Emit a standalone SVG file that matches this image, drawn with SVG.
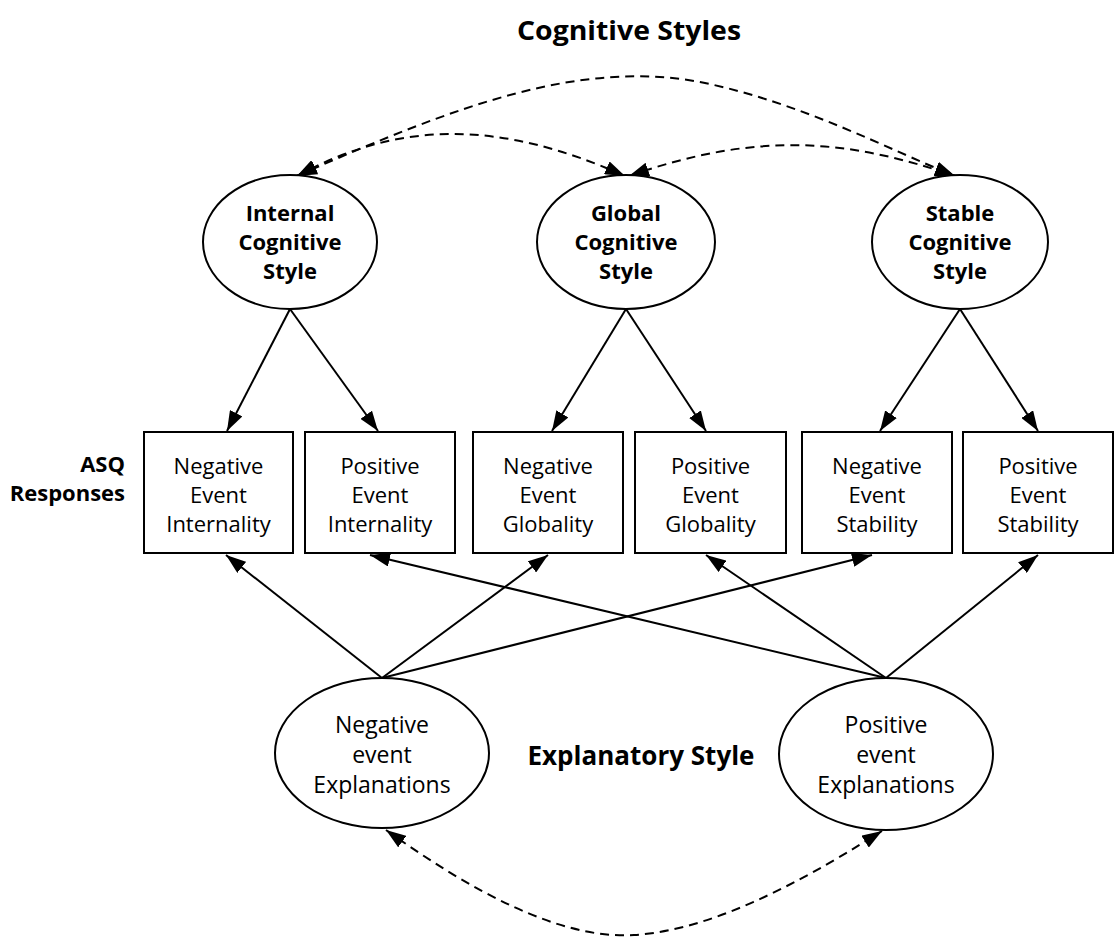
<svg xmlns="http://www.w3.org/2000/svg" width="1115" height="937" viewBox="0 0 1115 937">
  <style>
    .shape { fill: #fff; stroke: #000; stroke-width: 2; }
    .t { font-family: "Open Sans", "Liberation Sans", sans-serif; font-size: 22px; fill: #000; text-anchor: middle; }
    .b { font-weight: bold; }
    .e { font-size: 23px; }
    .h { font-size: 27px; }
    .path { fill: none; stroke: #000; stroke-width: 2; }
    .dash { fill: none; stroke: #000; stroke-width: 2; stroke-dasharray: 9 6; }
  </style>
  <defs>
    <marker id="dhead" viewBox="0 0 20 14" refX="20" refY="7" markerWidth="20" markerHeight="14" markerUnits="userSpaceOnUse" orient="auto">
      <path d="M0,0 L20,7 L0,14 Z" fill="#000"/>
    </marker>
    <marker id="dheadStart" viewBox="0 0 20 14" refX="0" refY="7" markerWidth="20" markerHeight="14" markerUnits="userSpaceOnUse" orient="auto">
      <path d="M20,0 L0,7 L20,14 Z" fill="#000"/>
    </marker>
  </defs>

  <text class="t b h" x="629" y="40" textLength="224" lengthAdjust="spacingAndGlyphs">Cognitive Styles</text>
  <text class="t b" x="125" y="472" style="text-anchor:end">ASQ</text>
  <text class="t b" x="125" y="501" style="text-anchor:end">Responses</text>
  <text class="t b h" x="641" y="765" textLength="227" lengthAdjust="spacingAndGlyphs">Explanatory Style</text>

  <g id="connectors">
    <!-- factor loadings of the cognitive styles -->
    <line class="path" x1="290" y1="309" x2="227" y2="431" marker-end="url(#dhead)"/>
    <line class="path" x1="290" y1="309" x2="378" y2="431" marker-end="url(#dhead)"/>
    <line class="path" x1="626" y1="309" x2="552" y2="431" marker-end="url(#dhead)"/>
    <line class="path" x1="626" y1="309" x2="706" y2="431" marker-end="url(#dhead)"/>
    <line class="path" x1="960" y1="309" x2="880" y2="431" marker-end="url(#dhead)"/>
    <line class="path" x1="960" y1="309" x2="1038" y2="431" marker-end="url(#dhead)"/>
    <!-- explanatory style loadings -->
    <line class="path" x1="382" y1="678" x2="226" y2="555" marker-end="url(#dhead)"/>
    <line class="path" x1="382" y1="678" x2="548" y2="555" marker-end="url(#dhead)"/>
    <line class="path" x1="382" y1="678" x2="872" y2="555" marker-end="url(#dhead)"/>
    <line class="path" x1="886" y1="678" x2="370" y2="555" marker-end="url(#dhead)"/>
    <line class="path" x1="886" y1="678" x2="706" y2="555" marker-end="url(#dhead)"/>
    <line class="path" x1="886" y1="678" x2="1038" y2="555" marker-end="url(#dhead)"/>
    <!-- correlations -->
    <path class="dash" d="M297,176 C400,120 500,120 625,176" marker-start="url(#dheadStart)" marker-end="url(#dhead)"/>
    <path class="dash" d="M629,176 C760,130 850,140 955,176" marker-start="url(#dheadStart)" marker-end="url(#dhead)"/>
    <path class="dash" d="M297,176 C460,104 580,60 700,82 C800,102 890,150 955,176" marker-start="url(#dheadStart)" marker-end="url(#dhead)"/>
    <path class="dash" d="M386,830 C470,890 560,940 634,935 C720,930 820,870 882,831" marker-start="url(#dheadStart)" marker-end="url(#dhead)"/>
  </g>

  <g id="internal">
    <ellipse class="shape" cx="290" cy="242" rx="87" ry="67"/>
    <text class="t b" x="290" y="221">Internal</text>
    <text class="t b" x="290" y="250">Cognitive</text>
    <text class="t b" x="290" y="279">Style</text>
  </g>
  <g id="global">
    <ellipse class="shape" cx="626" cy="242" rx="89" ry="67"/>
    <text class="t b" x="626" y="221">Global</text>
    <text class="t b" x="626" y="250">Cognitive</text>
    <text class="t b" x="626" y="279">Style</text>
  </g>
  <g id="stable">
    <ellipse class="shape" cx="960" cy="242" rx="88" ry="67"/>
    <text class="t b" x="960" y="221">Stable</text>
    <text class="t b" x="960" y="250">Cognitive</text>
    <text class="t b" x="960" y="279">Style</text>
  </g>

  <g id="neg-internality">
    <rect class="shape" x="144" y="432" width="149" height="121"/>
    <text class="t" x="218.5" y="474">Negative</text>
    <text class="t" x="218.5" y="503">Event</text>
    <text class="t" x="218.5" y="532">Internality</text>
  </g>
  <g id="pos-internality">
    <rect class="shape" x="305" y="432" width="150" height="121"/>
    <text class="t" x="380" y="474">Positive</text>
    <text class="t" x="380" y="503">Event</text>
    <text class="t" x="380" y="532">Internality</text>
  </g>
  <g id="neg-globality">
    <rect class="shape" x="473" y="432" width="150" height="121"/>
    <text class="t" x="548" y="474">Negative</text>
    <text class="t" x="548" y="503">Event</text>
    <text class="t" x="548" y="532">Globality</text>
  </g>
  <g id="pos-globality">
    <rect class="shape" x="635" y="432" width="151" height="121"/>
    <text class="t" x="710.5" y="474">Positive</text>
    <text class="t" x="710.5" y="503">Event</text>
    <text class="t" x="710.5" y="532">Globality</text>
  </g>
  <g id="neg-stability">
    <rect class="shape" x="802" y="432" width="150" height="121"/>
    <text class="t" x="877" y="474">Negative</text>
    <text class="t" x="877" y="503">Event</text>
    <text class="t" x="877" y="532">Stability</text>
  </g>
  <g id="pos-stability">
    <rect class="shape" x="963" y="432" width="150" height="121"/>
    <text class="t" x="1038" y="474">Positive</text>
    <text class="t" x="1038" y="503">Event</text>
    <text class="t" x="1038" y="532">Stability</text>
  </g>

  <g id="neg-explanations">
    <ellipse class="shape" cx="382" cy="753" rx="107" ry="75"/>
    <text class="t e" x="382" y="733">Negative</text>
    <text class="t e" x="382" y="763">event</text>
    <text class="t e" x="382" y="793">Explanations</text>
  </g>
  <g id="pos-explanations">
    <ellipse class="shape" cx="886" cy="754" rx="107" ry="76"/>
    <text class="t e" x="886" y="733">Positive</text>
    <text class="t e" x="886" y="763">event</text>
    <text class="t e" x="886" y="793">Explanations</text>
  </g>
</svg>
